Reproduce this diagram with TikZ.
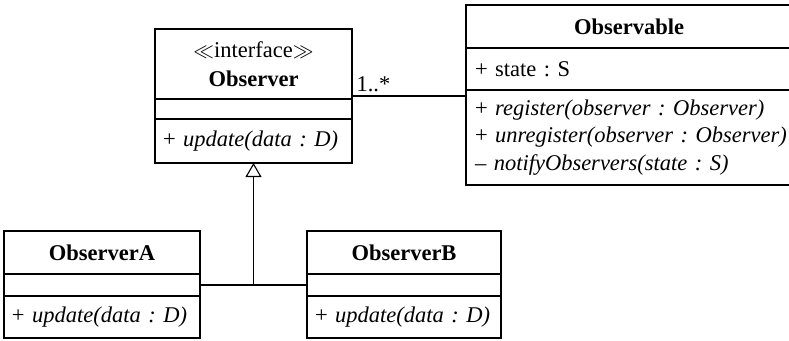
\documentclass[tikz,border=0pt]{standalone}
\usepackage{fontspec}
\setmainfont{Liberation Serif}
\usetikzlibrary{positioning,arrows.meta}

\tikzset{
  umlfont/.style={font=\fontsize{22.5}{27.5}\selectfont\frenchspacing},
  compart/.style 2 args={draw, line width=1.1pt, outer sep=0pt, inner xsep=8pt,
    inner ysep=0pt, align=left, text width=#1, minimum height=#2, umlfont},
  head/.style 2 args={compart={#1}{#2}, align=center},
  assocline/.style={line width=1.1pt},
  inherit/.style={line width=1.1pt, -{Triangle[open, length=14pt, width=16pt]}}
}

\begin{document}
\begin{tikzpicture}[x=1pt, y=-1pt]
    \useasboundingbox (0, 0) rectangle (789, 340);

    % Nodes
    \node [head={181pt}{70pt}, anchor=north west] (observer-head) at (155, 29)
      {$\ll$interface$\gg$\\[2pt]\textbf{Observer}};
    \node [compart={181pt}{20pt}, below=0pt of observer-head] (observer-attr) {};
    \node [compart={181pt}{44pt}, below=0pt of observer-attr] (observer-ops)
      {\mbox{+ \textit{update(data : D)}}};

    \node [head={308pt}{43pt}, inner xsep=9pt, anchor=north west] (observable-head) at (466, 5)
      {\textbf{Observable}};
    \node [compart={308pt}{42pt}, inner xsep=9pt, below=0pt of observable-head] (observable-attr)
      {+ state : S};
    \node [compart={308pt}{95pt}, inner xsep=9pt, below=0pt of observable-attr] (observable-ops)
      {\mbox{+ \textit{register(observer : Observer)}}\\
       \mbox{+ \textit{unregister(observer : Observer)}}\\
       \mbox{– \textit{notifyObservers(state : S)}}};

    \node [head={180pt}{43pt}, anchor=north west] (observera-head) at (4, 231)
      {\textbf{ObserverA}};
    \node [compart={180pt}{22pt}, below=0pt of observera-head] (observera-attr) {};
    \node [compart={180pt}{42pt}, below=0pt of observera-attr] (observera-ops)
      {\mbox{+ \textit{update(data : D)}}};

    \node [head={178pt}{43pt}, anchor=north west] (observerb-head) at (307, 231)
      {\textbf{ObserverB}};
    \node [compart={178pt}{22pt}, below=0pt of observerb-head] (observerb-attr) {};
    \node [compart={178pt}{42pt}, below=0pt of observerb-attr] (observerb-ops)
      {\mbox{+ \textit{update(data : D)}}};

    % Connections
    \coordinate (assoc) at ([yshift=-32pt]observer-head.east);
    \draw [assocline] (assoc) -- (assoc -| observable-ops.west)
      node [pos=0, above right, inner sep=4pt, umlfont] (mult) {1..*};
    \draw [assocline] (observera-attr.east) -- (observerb-attr.west);
    \draw [inherit] (observera-attr.east -| observer-ops.south) -- (observer-ops.south);
  \end{tikzpicture}
\end{document}
